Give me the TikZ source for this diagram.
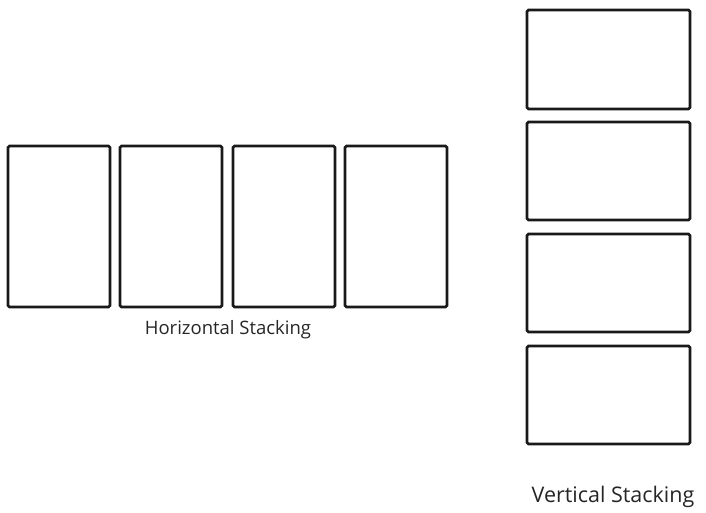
\documentclass[tikz,border=0pt]{standalone}
\usepackage{fontspec}
\setmainfont{Open Sans}
\begin{document}
\begin{tikzpicture}[x=1pt,y=-1pt,
  panel/.style={draw=black!90, line width=2.8pt, rounded corners=1.5pt},
  lbl/.style={inner sep=0pt, text=black!85}]
\useasboundingbox (0,0) rectangle (706,513);
\draw[panel] (8,146) rectangle (110,307) node[pos=0.5,coordinate] (h1) {};
\draw[panel] (120,146) rectangle (222,307) node[pos=0.5,coordinate] (h2) {};
\draw[panel] (233,146) rectangle (335,307) node[pos=0.5,coordinate] (h3) {};
\draw[panel] (345,146) rectangle (447,307) node[pos=0.5,coordinate] (h4) {};
\draw[panel] (527,10) rectangle (690,109) node[pos=0.5,coordinate] (v1) {};
\draw[panel] (527,122) rectangle (690,220) node[pos=0.5,coordinate] (v2) {};
\draw[panel] (527,234) rectangle (690,332) node[pos=0.5,coordinate] (v3) {};
\draw[panel] (527,346) rectangle (690,444) node[pos=0.5,coordinate] (v4) {};
\node[lbl, font=\fontsize{18.5}{22}\selectfont] (hl) at (228,330) {Horizontal Stacking};
\node[lbl, font=\fontsize{21.5}{26}\selectfont] (vl) at (613,497) {Vertical Stacking};
\end{tikzpicture}
\end{document}
